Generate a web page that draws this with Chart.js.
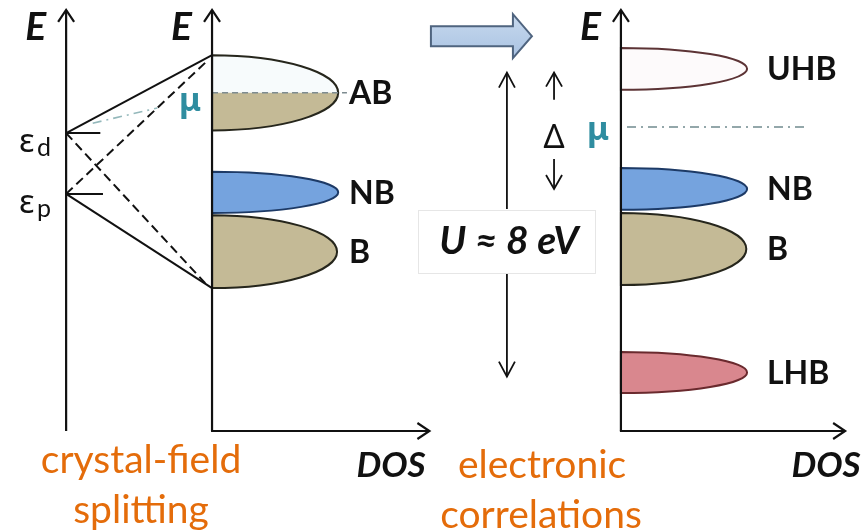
<!DOCTYPE html>
<html>
<head>
<meta charset="utf-8">
<script src="https://cdn.jsdelivr.net/npm/chart.js@4.4.1/dist/chart.umd.min.js"></script>
<style>
  html, body { margin: 0; padding: 0; background: #ffffff; }
  #wrap { width: 863px; height: 532px; }
</style>
</head>
<body>
<div id="wrap"><canvas id="c" width="863" height="532"></canvas></div>
<script>
// ---- Data: energies in eV measured up from the foot of each energy axis ----
const levelNames = ['d', 'p'];
const levelEnergies = [7.84, 6.24];

// Crystal-field splitting: bonding, non-bonding and anti-bonding bands
const cfBandNames = ['AB', 'NB', 'B'];
const cfBandCenters = [8.90, 6.28, 4.72];
const cfBandHalfWidths = [0.99, 0.54, 0.96];
const cfBandPeakDos = [3.32, 3.32, 3.29];
const cfMu = 8.90;

// Electronic correlations: the anti-bonding band splits into Hubbard bands
const ecBandNames = ['UHB', 'NB', 'B', 'LHB'];
const ecBandCenters = [9.53, 6.37, 4.79, 1.54];
const ecBandHalfWidths = [0.55, 0.55, 0.95, 0.54];
const ecBandPeakDos = [3.32, 3.32, 3.30, 3.32];
const ecMu = 8.00;
const hubbardU = 8;          // eV, the value quoted in the U label
const uArrowMid = 5.43;      // eV, midpoint of the U double arrow

// ---- Layout (x in DOS units; one unit spans the same length as 1 eV) ----
const UNIT_PX = 38;
const X_MAX = 863 / UNIT_PX;
const Y_MIN = -101 / UNIT_PX;
const Y_MAX = 431 / UNIT_PX;
const AX = { left: 1.74, mid: 5.58, right: 16.34 };
const E_TOP = 11.08;
const DOS_END = { mid: 11.30, right: 22.24 };
const U_X = 13.34, DELTA_X = 14.58;

const bandStyle = {
  AB:  { fill: '#c4ba96', stroke: '#26261c', upper: '#f7fbfc' },
  NB:  { fill: '#75a3de', stroke: '#1d3a66' },
  B:   { fill: '#c4ba96', stroke: '#26261c' },
  UHB: { fill: '#fdfafb', stroke: '#5c3335' },
  LHB: { fill: '#d9878e', stroke: '#6a2a2e' }
};

const ORANGE = '#e46c0a';
const TEAL = '#2f8da0';
const SANS = "Lato, 'Noto Sans', sans-serif";
const GREEK = "'Noto Sans', 'DejaVu Sans', sans-serif";

const [eD, eP] = levelEnergies;
const abTop = cfBandCenters[0] + cfBandHalfWidths[0];
const bBottom = cfBandCenters[2] - cfBandHalfWidths[2];

function seg(data, opts) {
  return Object.assign({
    data, showLine: true, pointRadius: 0, borderColor: '#111111',
    borderWidth: 2, fill: false, tension: 0
  }, opts || {});
}

const datasets = [
  // crystal-field splitting of the d and p levels into bands
  seg([{ x: AX.left, y: eD }, { x: AX.mid, y: abTop }]),
  seg([{ x: AX.left, y: eP }, { x: AX.mid, y: bBottom }]),
  seg([{ x: AX.left, y: eD }, { x: AX.mid - 0.18, y: bBottom + 0.13 }], { borderDash: [9, 5] }),
  seg([{ x: AX.left, y: eP }, { x: AX.mid - 0.18, y: abTop - 0.2 }], { borderDash: [9, 5] }),
  // level markers
  seg([{ x: AX.left, y: eD }, { x: AX.left + 0.9, y: eD }]),
  seg([{ x: AX.left, y: eP }, { x: AX.left + 0.97, y: eP }]),
  // chemical potential
  seg([{ x: AX.mid, y: cfMu }, { x: AX.mid + 3.55, y: cfMu }],
      { borderColor: '#7d8b90', borderWidth: 1.6, borderDash: [6, 4] }),
  seg([{ x: AX.right + 0.16, y: ecMu }, { x: AX.right + 4.86, y: ecMu }],
      { borderColor: '#93a7aa', borderWidth: 2, borderDash: [9, 5, 2, 5] }),
  seg([{ x: AX.left + 0.7, y: 8.10 }, { x: AX.left + 2.4, y: 8.50 }],
      { borderColor: '#94b8bb', borderWidth: 1.6, borderDash: [9, 5, 2, 5] })
];

function drawBand(ctx, x, y, axisX, name, center, half, peak, splitAt) {
  const st = bandStyle[name];
  const cx = x.getPixelForValue(axisX);
  const cy = y.getPixelForValue(center);
  const rx = x.getPixelForValue(axisX + peak) - cx;
  const ry = y.getPixelForValue(center - half) - cy;
  const path = new Path2D();
  path.moveTo(cx, cy - ry);
  path.ellipse(cx, cy, rx, ry, 0, -Math.PI / 2, Math.PI / 2);
  path.closePath();
  ctx.save();
  if (splitAt !== undefined) {
    ctx.fillStyle = st.upper;
    ctx.fill(path);
    const sy = y.getPixelForValue(splitAt);
    ctx.save();
    ctx.beginPath();
    ctx.rect(cx - 2, sy, rx + 6, cy + ry - sy + 6);
    ctx.clip();
    ctx.fillStyle = st.fill;
    ctx.fill(path);
    ctx.restore();
  } else {
    ctx.fillStyle = st.fill;
    ctx.fill(path);
  }
  ctx.lineWidth = 2;
  ctx.strokeStyle = st.stroke;
  ctx.stroke(path);
  ctx.restore();
}

const bandsPlugin = {
  id: 'bands',
  beforeDatasetsDraw(chart) {
    const { ctx, scales: { x, y } } = chart;
    cfBandNames.forEach((n, i) => drawBand(ctx, x, y, AX.mid, n, cfBandCenters[i],
      cfBandHalfWidths[i], cfBandPeakDos[i], n === 'AB' ? cfMu : undefined));
    ecBandNames.forEach((n, i) => drawBand(ctx, x, y, AX.right, n, ecBandCenters[i],
      ecBandHalfWidths[i], ecBandPeakDos[i]));
  }
};

function text(ctx, s, px, py, font, color, align, baseline) {
  ctx.font = font;
  ctx.fillStyle = color;
  ctx.textAlign = align || 'left';
  ctx.textBaseline = baseline || 'alphabetic';
  ctx.fillText(s, px, py);
}

function arrowHead(ctx, tx, ty, dx, dy, len, half) {
  // open "V" head pointing along (dx, dy)
  const nx = -dy, ny = dx;
  ctx.beginPath();
  ctx.moveTo(tx - dx * len + nx * half, ty - dy * len + ny * half);
  ctx.lineTo(tx, ty);
  ctx.lineTo(tx - dx * len - nx * half, ty - dy * len - ny * half);
  ctx.stroke();
}

const decorPlugin = {
  id: 'decor',
  afterDatasetsDraw(chart) {
    const { ctx, scales: { x, y } } = chart;
    const X = v => x.getPixelForValue(v);
    const Y = v => y.getPixelForValue(v);
    ctx.save();
    ctx.lineCap = 'butt';
    ctx.lineJoin = 'miter';

    // energy axes and DOS axes
    ctx.strokeStyle = '#111111';
    ctx.lineWidth = 2.2;
    [AX.left, AX.mid, AX.right].forEach(a => {
      ctx.beginPath();
      ctx.moveTo(X(a), Y(0));
      ctx.lineTo(X(a), Y(E_TOP));
      ctx.stroke();
      arrowHead(ctx, X(a), Y(E_TOP), 0, -1, 12, 8);
    });
    [['mid', AX.mid], ['right', AX.right]].forEach(([k, a]) => {
      ctx.beginPath();
      ctx.moveTo(X(a) - 1, Y(0));
      ctx.lineTo(X(DOS_END[k]), Y(0));
      ctx.stroke();
      arrowHead(ctx, X(DOS_END[k]), Y(0), 1, 0, 12, 8);
    });

    // U double arrow, interrupted by its label box
    const uTop = uArrowMid + hubbardU / 2, uBot = uArrowMid - hubbardU / 2;
    const ux = X(U_X);
    ctx.lineWidth = 1.8;
    ctx.beginPath();
    ctx.moveTo(ux, Y(uTop)); ctx.lineTo(ux, 209);
    ctx.moveTo(ux, 274); ctx.lineTo(ux, Y(uBot));
    ctx.stroke();
    arrowHead(ctx, ux, Y(uTop), 0, -1, 15, 8);
    arrowHead(ctx, ux, Y(uBot), 0, 1, 15, 8);

    // charge-transfer gap arrows
    const dx = X(DELTA_X);
    ctx.beginPath();
    ctx.moveTo(dx, Y(uTop)); ctx.lineTo(dx, Y(uTop) + 27);
    ctx.moveTo(dx, Y(ecBandCenters[1])); ctx.lineTo(dx, Y(ecBandCenters[1]) - 30);
    ctx.stroke();
    arrowHead(ctx, dx, Y(uTop), 0, -1, 14, 8);
    arrowHead(ctx, dx, Y(ecBandCenters[1]), 0, 1, 14, 8);

    // U label box
    ctx.fillStyle = '#ffffff';
    ctx.fillRect(418, 210, 177, 63);
    ctx.strokeStyle = '#e6e6e6';
    ctx.lineWidth = 1;
    ctx.strokeRect(418.5, 210.5, 177, 63);
    text(ctx, 'U \u2248 8 eV', ux + 2, 254, `italic bold 39px ${SANS}`, '#111111', 'center');

    // block arrow between the two pictures
    const bx = X(11.34), by = Y(10.39);
    ctx.beginPath();
    ctx.moveTo(bx, by - 10);
    ctx.lineTo(bx + 82, by - 10);
    ctx.lineTo(bx + 82, by - 22);
    ctx.lineTo(bx + 101, by);
    ctx.lineTo(bx + 82, by + 22);
    ctx.lineTo(bx + 82, by + 10);
    ctx.lineTo(bx, by + 10);
    ctx.closePath();
    const g = ctx.createLinearGradient(0, by - 22, 0, by + 22);
    g.addColorStop(0, '#c7d9ee');
    g.addColorStop(1, '#a9c2e2');
    ctx.fillStyle = g;
    ctx.fill();
    ctx.strokeStyle = '#4f647f';
    ctx.lineWidth = 2;
    ctx.stroke();

    // axis titles
    const eFont = `italic bold 39px ${SANS}`;
    [AX.left, AX.mid, AX.right].forEach(a => text(ctx, 'E', X(a) - 20, 40, eFont, '#111111', 'right'));
    const dosFont = `italic bold 35px ${SANS}`;
    text(ctx, 'DOS', 391, 477, dosFont, '#111111', 'center');
    text(ctx, 'DOS', 826, 477, dosFont, '#111111', 'center');

    // level labels
    levelNames.forEach((n, i) => {
      const by0 = Y(levelEnergies[i]) + 19;
      text(ctx, '\u03b5', 19, by0, `33px ${GREEK}`, '#111111', 'left');
      text(ctx, n, 37, by0 + 4, `25px ${SANS}`, '#111111', 'left');
    });

    // band labels
    const bandFont = `bold 32px ${SANS}`;
    cfBandNames.forEach((n, i) => text(ctx, n, 349, Y(cfBandCenters[i]) + 1, bandFont, '#111111', 'left', 'middle'));
    ecBandNames.forEach((n, i) => text(ctx, n, 767, Y(ecBandCenters[i]) + 1, bandFont, '#111111', 'left', 'middle'));

    // chemical potential and gap labels
    text(ctx, '\u03bc', 190, Y(cfMu) + 18, `bold 33px ${GREEK}`, TEAL, 'center');
    text(ctx, '\u03bc', 598, Y(ecMu) + 13, `bold 33px ${GREEK}`, TEAL, 'center');
    text(ctx, '\u0394', dx, 148, `33px ${GREEK}`, '#111111', 'center');

    // captions
    const capFont = `39px ${SANS}`;
    text(ctx, 'crystal-field', 141, 473, capFont, ORANGE, 'center');
    text(ctx, 'splitting', 141, 523, capFont, ORANGE, 'center');
    text(ctx, 'electronic', 542, 478, capFont, ORANGE, 'center');
    text(ctx, 'correlations', 541, 528, capFont, ORANGE, 'center');
    ctx.restore();
  }
};

new Chart(document.getElementById('c'), {
  type: 'scatter',
  data: { datasets },
  options: {
    responsive: false,
    animation: false,
    devicePixelRatio: 1,
    layout: { padding: 0 },
    plugins: { legend: { display: false }, tooltip: { enabled: false } },
    scales: {
      x: { type: 'linear', min: 0, max: X_MAX, display: false },
      y: { type: 'linear', min: Y_MIN, max: Y_MAX, display: false }
    }
  },
  plugins: [bandsPlugin, decorPlugin]
});
</script>
</body>
</html>
